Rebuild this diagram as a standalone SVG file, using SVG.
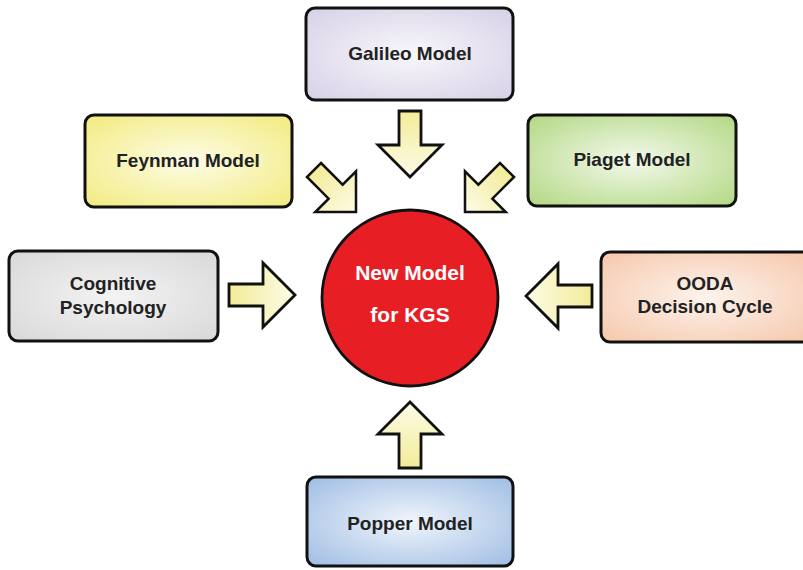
<svg xmlns="http://www.w3.org/2000/svg" xmlns:xlink="http://www.w3.org/1999/xlink" width="803" height="570" viewBox="0 0 803 570">
  <defs>
    <radialGradient id="g-lavender" cx="50%" cy="50%" r="65%">
      <stop offset="0" stop-color="#f8f7fb"/>
      <stop offset="1" stop-color="#d9d3e8"/>
    </radialGradient>
    <radialGradient id="g-yellow" cx="50%" cy="50%" r="65%">
      <stop offset="0" stop-color="#fdfce6"/>
      <stop offset="1" stop-color="#f3ec86"/>
    </radialGradient>
    <radialGradient id="g-green" cx="50%" cy="50%" r="65%">
      <stop offset="0" stop-color="#f3f9eb"/>
      <stop offset="1" stop-color="#b7da8a"/>
    </radialGradient>
    <radialGradient id="g-gray" cx="50%" cy="50%" r="65%">
      <stop offset="0" stop-color="#f3f3f3"/>
      <stop offset="1" stop-color="#dadada"/>
    </radialGradient>
    <radialGradient id="g-peach" cx="50%" cy="50%" r="65%">
      <stop offset="0" stop-color="#fdf3ec"/>
      <stop offset="1" stop-color="#f6cbb0"/>
    </radialGradient>
    <radialGradient id="g-blue" cx="50%" cy="50%" r="65%">
      <stop offset="0" stop-color="#f0f5fc"/>
      <stop offset="1" stop-color="#a5c1e5"/>
    </radialGradient>
    <linearGradient id="g-arrow" gradientUnits="userSpaceOnUse" x1="-66" y1="0" x2="0" y2="0">
      <stop offset="0" stop-color="#f2ec98"/>
      <stop offset="1" stop-color="#fdfbe8"/>
    </linearGradient>
    <!-- block arrow, tip at the origin, pointing along +x -->
    <path id="block-arrow" d="M -66,-11 H -32 V -32 L 0,0 L -32,32 V 11 H -66 Z"/>
  </defs>
  <style>
    .box { stroke: #111; stroke-width: 3; }
    .label { font-family: "Liberation Sans", Arial, sans-serif; font-weight: bold; font-size: 19px; fill: #222; text-anchor: middle; }
    .hub-label { font-family: "Liberation Sans", Arial, sans-serif; font-weight: bold; font-size: 21px; fill: #ffffff; text-anchor: middle; }
    .arrow { fill: url(#g-arrow); stroke: #111; stroke-width: 2.8; stroke-linejoin: miter; }
  </style>

  <rect width="803" height="570" fill="#ffffff"/>

  <!-- connectors -->
  <g id="connectors">
    <use xlink:href="#block-arrow" class="arrow" transform="translate(410,177) rotate(90)"/>
    <use xlink:href="#block-arrow" class="arrow" transform="translate(356,212) rotate(45) scale(0.9)"/>
    <use xlink:href="#block-arrow" class="arrow" transform="translate(465,212) rotate(135) scale(0.9)"/>
    <use xlink:href="#block-arrow" class="arrow" transform="translate(295,295) rotate(0)"/>
    <use xlink:href="#block-arrow" class="arrow" transform="translate(526,296) rotate(180)"/>
    <use xlink:href="#block-arrow" class="arrow" transform="translate(410,402) rotate(-90)"/>
  </g>

  <g id="galileo">
    <rect class="box" x="306" y="8" width="207" height="92" rx="9" fill="url(#g-lavender)"/>
    <text class="label" x="410" y="60">Galileo Model</text>
  </g>

  <g id="feynman">
    <rect class="box" x="85" y="115" width="207" height="92" rx="9" fill="url(#g-yellow)"/>
    <text class="label" x="188" y="167">Feynman Model</text>
  </g>

  <g id="piaget">
    <rect class="box" x="528" y="115" width="208" height="91" rx="9" fill="url(#g-green)"/>
    <text class="label" x="632" y="166">Piaget Model</text>
  </g>

  <g id="cognitive">
    <rect class="box" x="9" y="251" width="209" height="90" rx="9" fill="url(#g-gray)"/>
    <text class="label" x="113" y="290">Cognitive</text>
    <text class="label" x="113" y="314">Psychology</text>
  </g>

  <g id="ooda">
    <rect class="box" x="601" y="252" width="210" height="90" rx="9" fill="url(#g-peach)"/>
    <text class="label" x="705" y="290">OODA</text>
    <text class="label" x="705" y="313">Decision Cycle</text>
  </g>

  <g id="popper">
    <rect class="box" x="307" y="477" width="206" height="89" rx="9" fill="url(#g-blue)"/>
    <text class="label" x="410" y="530">Popper Model</text>
  </g>

  <g id="hub">
    <circle cx="410" cy="298" r="88" fill="#e81e25" stroke="#111" stroke-width="2.8"/>
    <text class="hub-label" x="410" y="280">New Model</text>
    <text class="hub-label" x="410" y="322">for KGS</text>
  </g>
</svg>
